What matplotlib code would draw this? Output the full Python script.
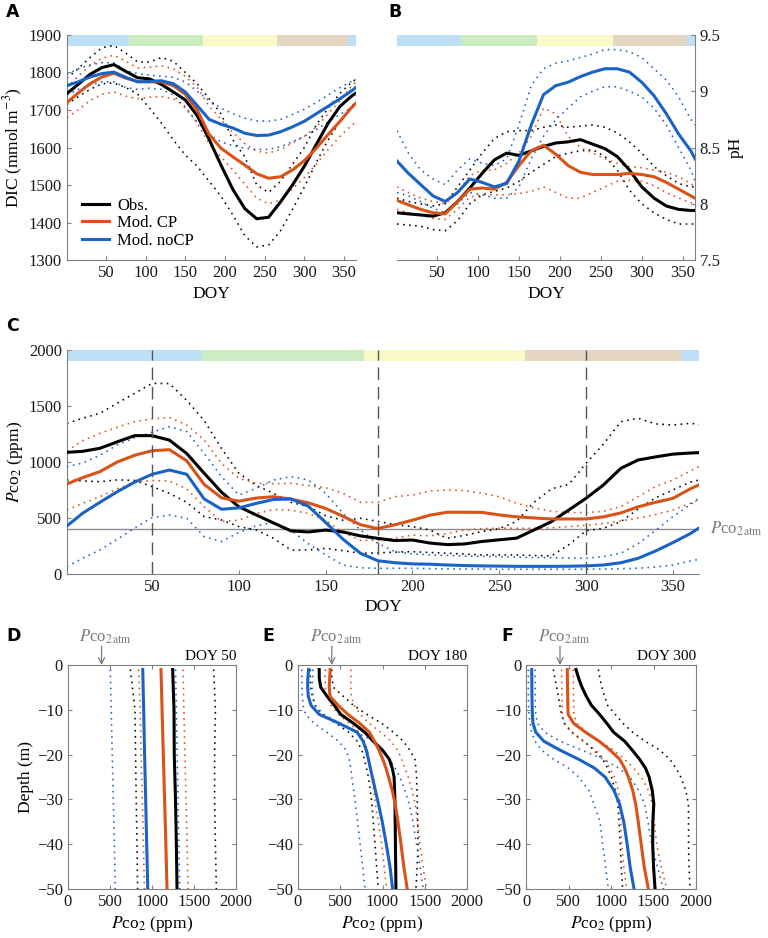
import numpy as np
import matplotlib
matplotlib.use('Agg')
import matplotlib.pyplot as plt

plt.rcParams['font.family'] = ['Liberation Serif', 'DejaVu Serif']
plt.rcParams['mathtext.fontset'] = 'stix'
plt.rcParams['xtick.direction'] = 'in'
plt.rcParams['ytick.direction'] = 'in'
plt.rcParams['xtick.major.size'] = 3
plt.rcParams['ytick.major.size'] = 3
plt.rcParams['font.size'] = 11

# colours
c_obs = '#000000'
c_cp = '#D95319'
c_nocp = '#1A63C6'
c_axis = '#808080'

# seasons (bar at the top of A, B, C)
season_edges = [1, 79, 172, 265, 355, 365]
season_colors = ['#BDE0F6', '#CDECC2', '#FAFAC9', '#E4D6C2', '#BDE0F6']

# ---------------- A / B : DIC and pH ----------------
doy15 = [1, 15, 30, 45, 60, 75, 90, 105, 120, 135, 150, 165, 180, 195, 210, 225, 240, 255, 270, 285, 300, 315, 330, 345, 360, 365]

dic_obs = [1744, 1768, 1795, 1813, 1821, 1803, 1786, 1783, 1768, 1748, 1727, 1685, 1622, 1553, 1488, 1437, 1410, 1414, 1455, 1500, 1550, 1608, 1665, 1710, 1738, 1745]
dic_obs_lo = [1715, 1735, 1755, 1770, 1772, 1760, 1742, 1705, 1665, 1620, 1580, 1550, 1510, 1470, 1420, 1365, 1335, 1340, 1378, 1435, 1495, 1560, 1620, 1670, 1712, 1720]
dic_obs_hi = [1785, 1810, 1840, 1866, 1872, 1852, 1828, 1828, 1840, 1830, 1800, 1770, 1730, 1690, 1620, 1575, 1500, 1480, 1510, 1555, 1600, 1660, 1705, 1745, 1775, 1782]
dic_cp = [1720, 1745, 1770, 1788, 1798, 1785, 1776, 1775, 1775, 1765, 1742, 1700, 1635, 1598, 1575, 1553, 1530, 1518, 1522, 1540, 1565, 1598, 1635, 1670, 1708, 1718]
dic_cp_lo = [1680, 1700, 1725, 1742, 1748, 1737, 1730, 1734, 1736, 1730, 1710, 1665, 1610, 1575, 1540, 1502, 1465, 1450, 1460, 1490, 1520, 1555, 1595, 1630, 1660, 1668]
dic_cp_hi = [1760, 1790, 1818, 1838, 1846, 1830, 1812, 1814, 1818, 1810, 1790, 1760, 1710, 1675, 1640, 1610, 1590, 1585, 1595, 1612, 1630, 1655, 1690, 1725, 1765, 1775]
dic_nocp = [1765, 1775, 1788, 1797, 1801, 1787, 1775, 1776, 1778, 1770, 1748, 1712, 1675, 1662, 1652, 1638, 1632, 1633, 1642, 1655, 1670, 1690, 1710, 1730, 1752, 1760]
dic_nocp_lo = [1740, 1755, 1767, 1775, 1775, 1760, 1755, 1758, 1755, 1740, 1705, 1668, 1635, 1615, 1605, 1598, 1595, 1595, 1602, 1615, 1630, 1648, 1668, 1688, 1707, 1712]
dic_nocp_hi = [1795, 1810, 1820, 1826, 1826, 1805, 1797, 1793, 1790, 1787, 1775, 1750, 1725, 1705, 1690, 1678, 1671, 1670, 1675, 1688, 1702, 1720, 1740, 1760, 1777, 1782]

ph_obs = [7.92, 7.91, 7.90, 7.89, 7.92, 8.02, 8.14, 8.27, 8.39, 8.45, 8.43, 8.47, 8.51, 8.54, 8.55, 8.57, 8.53, 8.49, 8.42, 8.30, 8.15, 8.05, 7.98, 7.95, 7.94, 7.94]
ph_obs_lo = [7.82, 7.81, 7.80, 7.77, 7.76, 7.85, 8.00, 8.08, 8.11, 8.14, 8.20, 8.28, 8.35, 8.42, 8.45, 8.47, 8.48, 8.42, 8.30, 8.12, 8.00, 7.92, 7.86, 7.82, 7.82, 7.82]
ph_obs_hi = [8.05, 8.02, 8.00, 7.98, 8.00, 8.15, 8.30, 8.45, 8.58, 8.64, 8.65, 8.65, 8.68, 8.70, 8.68, 8.69, 8.70, 8.68, 8.63, 8.55, 8.45, 8.33, 8.25, 8.18, 8.15, 8.15]
ph_cp = [8.03, 7.99, 7.95, 7.92, 7.91, 8.02, 8.13, 8.14, 8.13, 8.19, 8.34, 8.47, 8.52, 8.44, 8.34, 8.28, 8.26, 8.26, 8.26, 8.27, 8.26, 8.24, 8.19, 8.13, 8.07, 8.05]
ph_cp_lo = [7.95, 7.92, 7.90, 7.87, 7.86, 7.95, 8.06, 8.08, 8.08, 8.08, 8.09, 8.11, 8.15, 8.10, 8.05, 8.05, 8.10, 8.15, 8.20, 8.21, 8.20, 8.16, 8.10, 8.05, 8.01, 8.00]
ph_cp_hi = [8.15, 8.10, 8.05, 8.02, 8.00, 8.10, 8.25, 8.30, 8.30, 8.36, 8.45, 8.60, 8.85, 8.80, 8.60, 8.50, 8.45, 8.40, 8.36, 8.33, 8.32, 8.30, 8.28, 8.24, 8.18, 8.15]
ph_nocp = [8.38, 8.27, 8.17, 8.07, 8.02, 8.10, 8.22, 8.19, 8.15, 8.18, 8.38, 8.70, 8.97, 9.05, 9.08, 9.13, 9.17, 9.20, 9.20, 9.17, 9.08, 8.96, 8.80, 8.62, 8.47, 8.40]
ph_nocp_lo = [8.10, 8.07, 8.02, 7.96, 7.92, 8.00, 8.10, 8.08, 8.05, 8.05, 8.15, 8.40, 8.60, 8.75, 8.85, 8.95, 9.00, 9.04, 9.04, 9.00, 8.95, 8.85, 8.70, 8.50, 8.30, 8.20]
ph_nocp_hi = [8.65, 8.45, 8.30, 8.22, 8.17, 8.30, 8.40, 8.36, 8.34, 8.40, 8.70, 9.05, 9.20, 9.25, 9.27, 9.30, 9.33, 9.37, 9.37, 9.35, 9.30, 9.20, 9.10, 8.95, 8.75, 8.70]

# ---------------- C : surface pCO2 ----------------
doy10 = [1, 10, 20, 30, 40, 50, 60, 70, 80, 90, 100, 110, 120, 130, 140, 150, 160, 170, 180, 190, 200, 210, 220, 230, 240, 250, 260, 270, 280, 290, 300, 310, 320, 330, 340, 350, 360, 365]

pco2_obs = [1086, 1095, 1122, 1180, 1235, 1235, 1195, 1075, 900, 730, 600, 527, 455, 385, 375, 392, 375, 340, 318, 298, 303, 276, 262, 268, 290, 305, 320, 393, 467, 571, 676, 795, 943, 1018, 1045, 1070, 1080, 1083]
pco2_obs_lo = [839, 830, 824, 840, 835, 780, 720, 640, 512, 482, 423, 393, 318, 214, 214, 229, 208, 185, 188, 195, 199, 192, 185, 178, 170, 170, 170, 165, 161, 260, 387, 408, 467, 580, 680, 750, 820, 839]
pco2_obs_hi = [1345, 1390, 1435, 1525, 1613, 1702, 1700, 1550, 1370, 1120, 900, 790, 720, 640, 601, 520, 480, 497, 470, 440, 423, 393, 318, 345, 378, 405, 470, 640, 760, 800, 988, 1160, 1360, 1390, 1340, 1330, 1345, 1336]
pco2_cp = [804, 860, 914, 1000, 1060, 1100, 1110, 1010, 800, 680, 650, 678, 690, 668, 635, 585, 515, 440, 405, 440, 480, 525, 551, 551, 550, 527, 510, 500, 491, 491, 491, 510, 545, 600, 640, 675, 760, 795]
pco2_cp_lo = [571, 630, 690, 760, 818, 835, 830, 760, 600, 470, 480, 540, 575, 570, 540, 480, 370, 300, 300, 318, 348, 340, 360, 393, 405, 408, 408, 408, 412, 423, 435, 450, 473, 500, 530, 571, 630, 661]
pco2_cp_hi = [1100, 1190, 1256, 1310, 1360, 1385, 1398, 1330, 1196, 988, 854, 810, 805, 810, 790, 770, 720, 640, 640, 690, 705, 740, 750, 744, 720, 690, 631, 590, 560, 548, 548, 560, 601, 690, 780, 839, 920, 958]
pco2_nocp = [429, 542, 640, 735, 820, 890, 928, 890, 670, 578, 590, 630, 665, 670, 605, 460, 310, 185, 118, 100, 90, 87, 80, 75, 72, 70, 68, 68, 68, 69, 72, 80, 100, 140, 205, 280, 360, 410]
pco2_nocp_lo = [65, 140, 214, 310, 410, 503, 527, 497, 333, 290, 370, 430, 460, 390, 270, 170, 80, 55, 51, 51, 51, 48, 46, 44, 43, 42, 42, 42, 42, 42, 42, 44, 47, 51, 62, 80, 115, 131]
pco2_nocp_hi = [958, 990, 1060, 1152, 1215, 1265, 1315, 1271, 1077, 869, 705, 765, 839, 869, 839, 720, 542, 393, 274, 199, 180, 170, 165, 160, 157, 155, 150, 147, 145, 142, 140, 155, 185, 270, 390, 512, 620, 676]

pco2_atm = 400
profile_days = [50, 180, 300]

# ---------------- D : profile DOY 50 ----------------
dep_d = [-1, -10, -20, -30, -40, -50]
d_obs = [1246, 1262, 1265, 1280, 1290, 1298]
d_obs_lo = [742, 798, 805, 812, 822, 829]
d_obs_hi = [1734, 1755, 1745, 1745, 1755, 1766]
d_cp = [1107, 1120, 1135, 1150, 1165, 1179]
d_cp_lo = [841, 860, 870, 885, 898, 909]
d_cp_hi = [1369, 1380, 1392, 1405, 1418, 1429]
d_nocp = [890, 901, 912, 925, 937, 950]
d_nocp_lo = [504, 515, 527, 540, 552, 563]
d_nocp_hi = [1280, 1290, 1300, 1310, 1320, 1330]

# ---------------- E / F : profiles DOY 180 and 300 ----------------
dep = [-1, -3, -5, -7, -9, -11, -13, -15, -17, -19, -21, -23, -25, -28, -31, -35, -40, -45, -50]

e_obs = [251, 252, 270, 345, 430, 505, 655, 790, 890, 1000, 1080, 1115, 1137, 1143, 1148, 1150, 1153, 1156, 1159]
e_obs_lo = [145, 145, 150, 170, 200, 280, 450, 600, 700, 755, 785, 810, 833, 855, 875, 890, 912, 930, 951]
e_obs_hi = [401, 401, 420, 538, 656, 813, 990, 1128, 1245, 1324, 1383, 1395, 1403, 1408, 1412, 1416, 1422, 1410, 1395]
e_cp = [381, 375, 369, 380, 475, 590, 730, 845, 905, 958, 1003, 1040, 1072, 1115, 1150, 1183, 1219, 1252, 1293]
e_cp_lo = [322, 322, 322, 340, 390, 480, 610, 720, 785, 825, 840, 855, 872, 895, 915, 950, 990, 1020, 1049]
e_cp_hi = [625, 625, 625, 630, 665, 735, 840, 980, 1100, 1180, 1225, 1265, 1304, 1350, 1388, 1415, 1442, 1480, 1521]
e_nocp = [126, 116, 115, 122, 155, 250, 485, 700, 770, 808, 833, 856, 880, 916, 952, 997, 1045, 1088, 1120]
e_nocp_lo = [47, 47, 47, 52, 60, 90, 190, 340, 480, 570, 605, 625, 637, 660, 680, 705, 735, 765, 794]
e_nocp_hi = [177, 172, 165, 180, 204, 303, 499, 696, 892, 1000, 1080, 1150, 1206, 1265, 1315, 1360, 1403, 1445, 1481]

f_obs = [588, 620, 660, 710, 770, 865, 950, 1030, 1160, 1250, 1335, 1405, 1448, 1485, 1503, 1492, 1490, 1500, 1518]
f_obs_lo = [322, 340, 361, 380, 398, 418, 450, 540, 680, 800, 900, 960, 1005, 1050, 1080, 1095, 1108, 1120, 1137]
f_obs_hi = [851, 870, 893, 925, 960, 1050, 1140, 1255, 1400, 1576, 1690, 1765, 1820, 1880, 1910, 1912, 1912, 1918, 1929]
f_cp = [486, 487, 488, 490, 492, 495, 560, 700, 860, 990, 1100, 1160, 1205, 1255, 1290, 1320, 1355, 1390, 1439]
f_cp_lo = [420, 420, 421, 423, 425, 428, 450, 530, 670, 820, 920, 988, 1040, 1085, 1108, 1115, 1125, 1150, 1184]
f_cp_hi = [557, 557, 558, 559, 560, 562, 600, 710, 870, 1030, 1160, 1263, 1355, 1440, 1485, 1510, 1537, 1590, 1655]
f_nocp = [67, 68, 69, 70, 72, 75, 82, 115, 210, 400, 615, 805, 930, 1035, 1100, 1150, 1190, 1224, 1271]
f_nocp_lo = [27, 27, 27, 28, 30, 35, 47, 67, 106, 184, 322, 498, 620, 740, 800, 871, 902, 935, 969]
f_nocp_hi = [106, 106, 107, 108, 110, 114, 135, 220, 400, 655, 910, 1090, 1224, 1325, 1395, 1435, 1478, 1545, 1616]


DOT = (0, (1, 2.8))


# 一组曲线：上下界虚点线 + 中间实线
def draw_group(ax, x, mid, lo, hi, color, label=None, vertical=False):
    for band in (lo, hi):
        if vertical:
            ax.plot(band, x, ls=DOT, lw=1.15, color=color)
        else:
            ax.plot(x, band, ls=DOT, lw=1.15, color=color)
    if vertical:
        ax.plot(mid, x, color=color, lw=2.2, label=label, zorder=4)
    else:
        ax.plot(x, mid, color=color, lw=2.2, label=label, zorder=4)


def season_bar(ax, y0, h):
    segs = [(season_edges[i], season_edges[i + 1] - season_edges[i]) for i in range(len(season_colors))]
    ax.broken_barh(segs, (y0, h), facecolors=season_colors, edgecolor='none', zorder=1)


def style_axes(ax, box=False):
    for s in ax.spines.values():
        s.set_color(c_axis)
        s.set_linewidth(0.8)
    if not box:
        ax.spines['top'].set_visible(False)
        ax.spines['right'].set_visible(False)
    ax.tick_params(colors=c_axis, labelcolor='#1a1a1a', labelsize=12)


fig = plt.figure(figsize=(7.68, 9.38), dpi=100)

# ---- A ----
axA = fig.add_axes([0.0872, 0.7228, 0.3763, 0.2399])
draw_group(axA, doy15, dic_obs, dic_obs_lo, dic_obs_hi, c_obs, 'Obs.')
draw_group(axA, doy15, dic_cp, dic_cp_lo, dic_cp_hi, c_cp, 'Mod. CP')
draw_group(axA, doy15, dic_nocp, dic_nocp_lo, dic_nocp_hi, c_nocp, 'Mod. noCP')
season_bar(axA, 1870, 30)
axA.set_xlim(1, 365)
axA.set_ylim(1300, 1900)
axA.set_xticks([50, 100, 150, 200, 250, 300, 350])
axA.set_yticks(range(1300, 1901, 100))
axA.set_xlabel('DOY', fontsize=12.5)
axA.set_ylabel('DIC (mmol m$^{-3}$)', fontsize=12.5, labelpad=3)
style_axes(axA)
axA.legend(loc='lower left', bbox_to_anchor=(0.03, 0.02), frameon=False, fontsize=12,
           handlelength=1.6, handletextpad=0.5, labelspacing=0.1, borderaxespad=0)

# ---- B ----
axB = fig.add_axes([0.5169, 0.7228, 0.3880, 0.2399])
draw_group(axB, doy15, ph_obs, ph_obs_lo, ph_obs_hi, c_obs)
draw_group(axB, doy15, ph_cp, ph_cp_lo, ph_cp_hi, c_cp)
draw_group(axB, doy15, ph_nocp, ph_nocp_lo, ph_nocp_hi, c_nocp)
season_bar(axB, 9.4, 0.1)
axB.set_xlim(1, 365)
axB.set_ylim(7.5, 9.5)
axB.set_xticks([50, 100, 150, 200, 250, 300, 350])
axB.set_yticks([7.5, 8, 8.5, 9, 9.5])
axB.set_yticklabels(['7.5', '8', '8.5', '9', '9.5'])
axB.set_xlabel('DOY', fontsize=12.5)
style_axes(axB)
axB.spines['right'].set_visible(True)
axB.spines['left'].set_visible(False)
axB.yaxis.tick_right()
axB.yaxis.set_label_position('right')
axB.set_ylabel('pH', fontsize=12.5, labelpad=5)

# ---- C ----
axC = fig.add_axes([0.0872, 0.3881, 0.8229, 0.2388])
axC.axhline(pco2_atm, color='#8c8c8c', lw=1.0, zorder=2)
draw_group(axC, doy10, pco2_obs, pco2_obs_lo, pco2_obs_hi, c_obs)
draw_group(axC, doy10, pco2_cp, pco2_cp_lo, pco2_cp_hi, c_cp)
draw_group(axC, doy10, pco2_nocp, pco2_nocp_lo, pco2_nocp_hi, c_nocp)
season_bar(axC, 1905, 95)
for d in profile_days:
    axC.axvline(d, color='#555555', lw=1.0, ls=(0, (9, 5)), zorder=5)
axC.set_xlim(1, 365)
axC.set_ylim(0, 2000)
axC.set_xticks([50, 100, 150, 200, 250, 300, 350])
axC.set_yticks([0, 500, 1000, 1500, 2000])
axC.set_xlabel('DOY', fontsize=12.5, labelpad=3)
axC.set_ylabel(r'$P$co$_2$ (ppm)', fontsize=12.5, labelpad=3)
style_axes(axC)
axC.text(1.018, pco2_atm, r'$P$co$_{2\,\mathrm{atm}}$', transform=axC.get_yaxis_transform(),
         color='#7a7a7a', fontsize=12, va='center', ha='left')

# ---- D, E, F ----
prof_axes = [
    ([0.0885, 0.0522, 0.2188, 0.2388], dep_d, (d_obs, d_obs_lo, d_obs_hi), (d_cp, d_cp_lo, d_cp_hi), (d_nocp, d_nocp_lo, d_nocp_hi)),
    ([0.3880, 0.0522, 0.2201, 0.2388], dep, (e_obs, e_obs_lo, e_obs_hi), (e_cp, e_cp_lo, e_cp_hi), (e_nocp, e_nocp_lo, e_nocp_hi)),
    ([0.6849, 0.0522, 0.2214, 0.2388], dep, (f_obs, f_obs_lo, f_obs_hi), (f_cp, f_cp_lo, f_cp_hi), (f_nocp, f_nocp_lo, f_nocp_hi)),
]
for i, (pos, z, obs, cp, nocp) in enumerate(prof_axes):
    ax = fig.add_axes(pos)
    draw_group(ax, z, *obs, c_obs, vertical=True)
    draw_group(ax, z, *cp, c_cp, vertical=True)
    draw_group(ax, z, *nocp, c_nocp, vertical=True)
    ax.set_xlim(0, 2000)
    ax.set_ylim(-50, 0)
    ax.set_xticks([0, 500, 1000, 1500, 2000])
    ax.set_yticks([0, -10, -20, -30, -40, -50])
    style_axes(ax, box=True)
    ax.tick_params(top=True, right=True)
    ax.set_xlabel(r'$P$co$_2$ (ppm)', fontsize=12.5, labelpad=3)
    if i == 0:
        ax.set_ylabel('Depth (m)', fontsize=12.5, labelpad=2)
    ax.text(2000, 0.4, 'DOY %d' % profile_days[i], ha='right', va='bottom', fontsize=11)
    ax.annotate('', xy=(pco2_atm, 0), xytext=(pco2_atm, 4.2), annotation_clip=False,
                arrowprops=dict(arrowstyle='->', color='#7a7a7a', lw=0.9, shrinkA=0, shrinkB=0))
    ax.text(450, 6.3, r'$P$co$_{2\,\mathrm{atm}}$', ha='center', va='center', color='#7a7a7a',
            fontsize=12, clip_on=False)

# 子图编号
for lab, x, y in [('A', 6, 12), ('B', 388, 12), ('C', 6, 326), ('D', 6, 636), ('E', 262, 636), ('F', 501, 636)]:
    fig.text(x / 768, 1 - y / 938, lab, family='DejaVu Sans', weight='bold', fontsize=12.5, va='center', ha='left')

fig.savefig('out.png', dpi=100)
